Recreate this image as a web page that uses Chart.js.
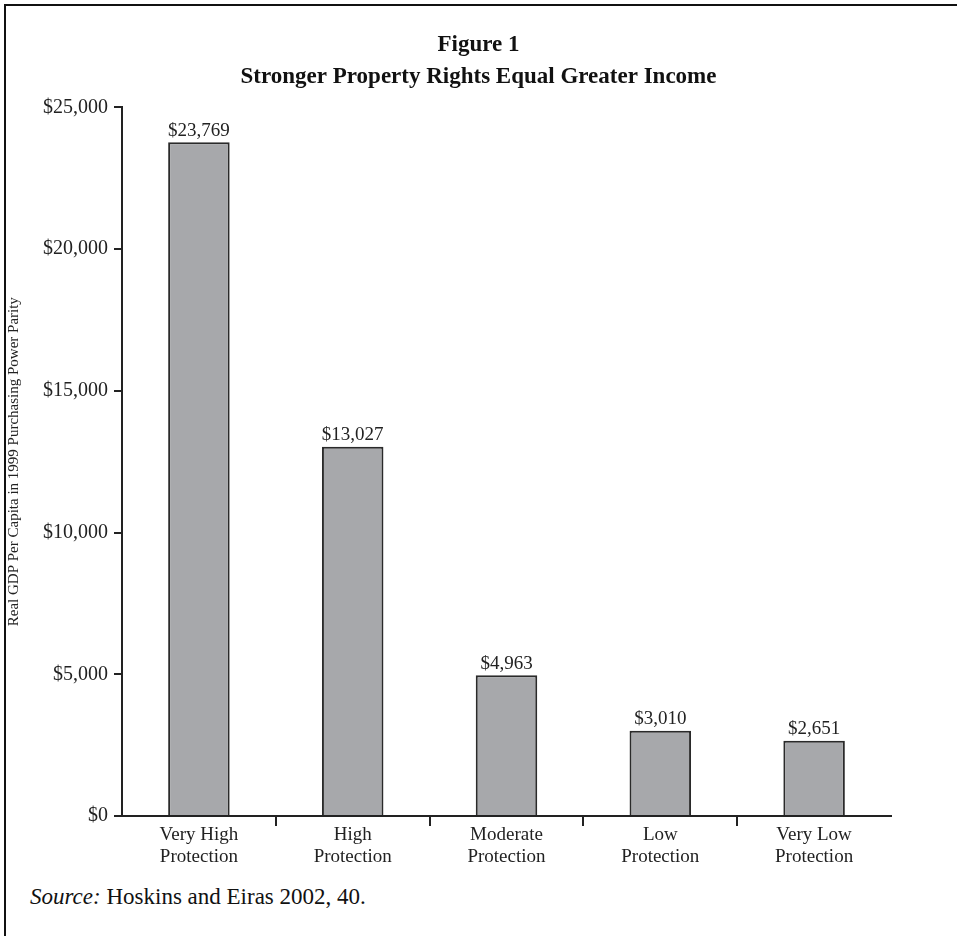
<!DOCTYPE html>
<html>
<head>
<meta charset="utf-8">
<script src="https://cdn.jsdelivr.net/npm/chart.js@4/dist/chart.umd.min.js"></script>
<style>
    body { margin: 0; background: #fff; }
    #marco {
        position: absolute; left: 4px; top: 4px; width: 980px; height: 960px;
        border-left: 2px solid #111; border-top: 2px solid #111;
    }
    #contenedor { position: absolute; left: 0; top: 0; width: 957px; height: 870px; }
    #fuente {
        position: absolute; left: 30px; top: 885px;
        font-family: 'Liberation Serif', 'DejaVu Serif', serif;
        font-size: 23px; color: #111; line-height: 1;
    }
</style>
</head>
<body>
<div id="marco"></div>
<div id="contenedor"><canvas id="grafico"></canvas></div>
<div id="fuente"><i>Source:</i> Hoskins and Eiras 2002, 40.</div>
<script>
// Datos del gráfico
const categorias = [
    ['Very High', 'Protection'],
    ['High', 'Protection'],
    ['Moderate', 'Protection'],
    ['Low', 'Protection'],
    ['Very Low', 'Protection']
];
const pibPerCapita = [23769, 13027, 4963, 3010, 2651];
const ticksY = [0, 5000, 10000, 15000, 20000, 25000];

const fuenteSerif = "'Liberation Serif', 'DejaVu Serif', serif";

function dolares(v) {
    return '$' + v.toLocaleString('en-US');
}

// Etiquetas de valor encima de cada barra
const etiquetasBarras = {
    id: 'etiquetasBarras',
    afterDatasetsDraw(chart) {
        const ctx = chart.ctx;
        const meta = chart.getDatasetMeta(0);
        ctx.save();
        ctx.font = '19px ' + fuenteSerif;
        ctx.fillStyle = '#222';
        ctx.textAlign = 'center';
        ctx.textBaseline = 'bottom';
        meta.data.forEach((barra, i) => {
            ctx.fillText(dolares(pibPerCapita[i]), barra.x, barra.y - 2);
        });
        ctx.restore();
    }
};

const ctx = document.getElementById('grafico').getContext('2d');
new Chart(ctx, {
    type: 'bar',
    data: {
        labels: categorias,
        datasets: [{
            data: pibPerCapita,
            backgroundColor: '#a7a8ab',
            borderColor: '#2a2a2a',
            borderWidth: 2,
            barPercentage: 0.4,
            categoryPercentage: 1
        }]
    },
    options: {
        responsive: true,
        maintainAspectRatio: false,
        animation: false,
        layout: { padding: { top: 29, right: 0, left: 0, bottom: 0 } },
        plugins: {
            legend: { display: false },
            tooltip: { enabled: false },
            title: {
                display: true,
                text: ['Figure 1', 'Stronger Property Rights Equal Greater Income'],
                color: '#111',
                font: { family: fuenteSerif, size: 23, weight: 'bold', lineHeight: 1.4 },
                padding: { top: 0, bottom: 14 }
            }
        },
        scales: {
            x: {
                grid: {
                    offset: true,
                    drawOnChartArea: false,
                    drawTicks: true,
                    tickLength: 10,
                    lineWidth: 2,
                    // solo las marcas entre categorías
                    color: (c) => (c.type === 'tick' && c.index > 0) ? '#222' : 'rgba(0,0,0,0)'
                },
                border: { display: true, color: '#222', width: 2 },
                ticks: {
                    color: '#222',
                    padding: -2,
                    font: { family: fuenteSerif, size: 19, lineHeight: 1.15 },
                    maxRotation: 0
                },
                afterFit(escala) { escala.height = 54; }
            },
            y: {
                min: 0,
                max: 25000,
                afterBuildTicks(escala) {
                    escala.ticks = ticksY.map(v => ({ value: v }));
                },
                grid: {
                    drawOnChartArea: false,
                    drawTicks: true,
                    tickLength: 8,
                    lineWidth: 2,
                    color: '#222'
                },
                border: { display: true, color: '#222', width: 2 },
                ticks: {
                    color: '#222',
                    padding: 6,
                    font: { family: fuenteSerif, size: 20 },
                    callback: (v) => dolares(v)
                },
                title: {
                    display: true,
                    text: 'Real GDP Per Capita in 1999 Purchasing Power Parity',
                    color: '#222',
                    font: { family: fuenteSerif, size: 15 },
                    padding: { top: 5, bottom: 0 }
                },
                afterFit(escala) { escala.width = 122; }
            },
            // margen derecho vacío, para que el título quede centrado en la página
            margenDerecho: {
                type: 'linear',
                position: 'right',
                display: true,
                grid: { display: false },
                border: { display: false },
                ticks: { display: false },
                afterFit(escala) { escala.width = 66; }
            }
        }
    },
    plugins: [etiquetasBarras]
});
</script>
</body>
</html>
